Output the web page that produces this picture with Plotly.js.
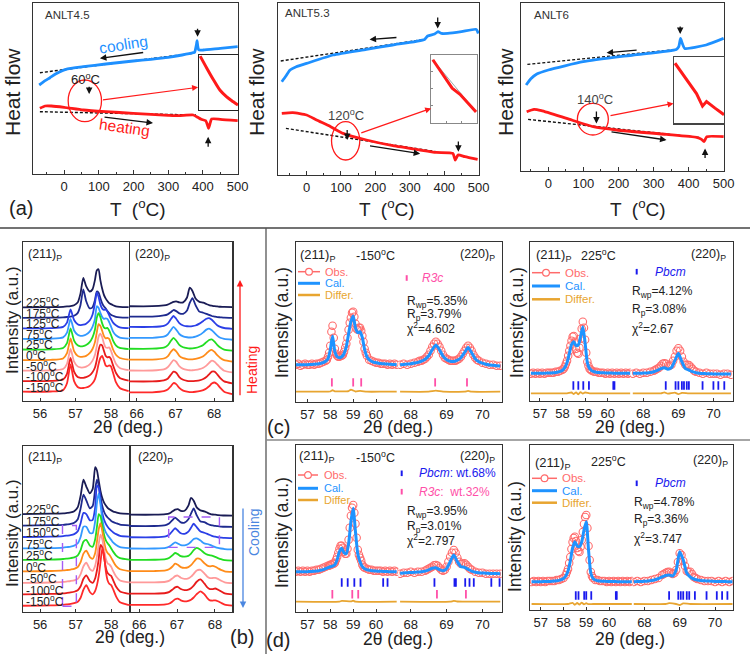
<!DOCTYPE html>
<html><head><meta charset="utf-8">
<script src="https://cdn.plot.ly/plotly-3.0.1.min.js"></script>
<style>html,body{margin:0;padding:0;background:#fff}#chart{width:750px;height:654px}</style>
</head><body><div id="chart"></div>
<script>
// ================= DATA =================
// (a) DSC curves: temperature (°C) and heat flow (a.u.)
const a1CoolT = [-72,-55,-41,-25,-12,5,55,120,199,250,300,340,372,376,381,383,385,388,401,450,500];
const a1CoolV = [89,93.3,96.3,100,102.3,104.7,107.3,110,113,114.7,116.7,119,121.3,121.8,129,133.3,128,124,124,125.7,127.3];
const a1CoolBaseT = [-70,372], a1CoolBaseV = [101.3,120.7];
const a1HeatT = [-70,-55,-37,0,55,120,199,250,300,330,372,385,395,408,413,416,420,425,450,500];
const a1HeatV = [65.7,68,68,66.7,64,62.3,60.7,59.7,58.7,58.3,59,56.7,54.7,53.3,49,45.7,50,55,54.7,53.3];
const a1HeatBaseT = [-70,380], a1HeatBaseV = [62.3,59];

const a2CoolT = [-72,-60,-48,-30,0,77,174,250,343,352,372,382,392,410,450,493,499];
const a2CoolV = [93,98.7,104.7,108,111.3,119.7,125.3,129.7,135.3,138.7,140.7,143,141.3,141.3,143,145.3,141.3];
const a2CoolBaseT = [-75,343], a2CoolBaseV = [113.7,135.3];
const a2HeatT = [-72,-40,0,29,70,106,174,251,330,377,425,432,440,460,497];
const a2HeatV = [61.3,62,59.7,54.7,48,41.3,34.7,29,24.7,22.3,21.3,14.7,19.7,18,15.3];
const a2HeatBaseT = [-60,377], a2HeatBaseV = [46.3,23];

const a3CoolT = [-63.5,-50,-33,0,99,242,365,372,377,382,389,450,500];
const a3CoolV = [85.7,92,96.7,100.7,109,115.7,121.3,124,132.3,127.3,122.3,125.7,132.3];
const a3CoolBaseT = [-60,365], a3CoolBaseV = [106.3,121.3];
const a3HeatT = [-62,-41,-20,52,128,195,337,423,437,444,452,500];
const a3HeatV = [59,61.3,60,52.3,44,40.7,36.3,33.3,31.3,29,34,34];
const a3HeatBaseT = [-58,430], a3HeatBaseV = [51.3,33.3];

// insets (relative units)
const in1X = [0.03,0.2,0.37,0.54,0.71,0.88,1.0], in1Y = [0.98,0.76,0.55,0.36,0.24,0.15,0.09];
const in2X = [0.04,0.46,0.63,0.98], in2Y = [0.93,0.51,0.42,0.16];
const in2FitX = [0.04,0.5,0.98], in2FitY = [0.93,0.56,0.16];
const in3X = [0.02,0.25,0.45,0.57,0.65,0.82,1.0], in3Y = [0.91,0.66,0.45,0.26,0.33,0.23,0.13];

// (b) temperature-dependent XRD stacks
const tempsHeat = ['-150','-100','-50','0','25','75','125','175','225'];
const tempsCool = ['-150','-100','-50','0','25','75','150','175','225'];
const stackColors = ['#ff2a2a','#e81c1c','#ff9a9a','#ff8c1a','#22dd22','#3399ff','#2b3fe6','#1e2a8e','#1a1c55'];
const X211 = [55.5,56.3,56.65,56.76,56.86,56.96,57.06,57.14,57.22,57.3,57.4,57.48,57.55,57.6,57.65,57.7,57.75,57.8,57.85,57.9,57.95,58.0,58.06,58.14,58.25,58.5];
const X220 = [65.7,66.4,66.7,66.8,66.88,66.95,67.02,67.1,67.2,67.3,67.37,67.44,67.52,67.62,67.72,67.8,67.87,67.94,68.01,68.08,68.16,68.26,68.47];
const heat211 = [
 [0,0.02,0.15,0.8,2.6,1.0,0.45,0.35,0.35,0.4,0.55,0.8,1.2,1.8,2.6,3.2,3.4,3.0,2.5,2.4,2.5,2.4,1.8,0.9,0.35,0.05],
 [0,0.02,0.15,0.7,2.2,0.9,0.4,0.32,0.32,0.38,0.55,0.85,1.3,2.0,2.9,3.45,3.4,2.9,2.4,2.25,2.3,2.1,1.5,0.8,0.3,0.05],
 [0,0.02,0.15,0.65,2.05,0.85,0.4,0.3,0.3,0.38,0.6,0.95,1.5,2.3,3.2,3.5,3.2,2.6,2.2,2.15,2.2,1.9,1.3,0.65,0.25,0.04],
 [0,0.02,0.15,0.65,2.05,0.85,0.4,0.3,0.32,0.4,0.65,1.05,1.7,2.6,3.4,3.25,2.8,2.3,2.05,2.1,2.0,1.6,1.0,0.5,0.2,0.04],
 [0,0.02,0.15,0.6,2.0,0.85,0.4,0.3,0.32,0.42,0.7,1.15,1.9,3.0,3.45,3.1,2.5,2.1,2.0,2.05,1.8,1.4,0.85,0.4,0.15,0.03],
 [0,0.02,0.15,0.6,1.9,0.8,0.4,0.3,0.32,0.42,0.7,1.15,1.9,3.1,2.95,2.5,2.1,1.9,1.95,1.9,1.6,1.2,0.7,0.35,0.12,0.03],
 [0,0.02,0.15,0.55,1.8,0.8,0.4,0.32,0.35,0.45,0.75,1.3,2.4,3.4,3.0,2.3,1.9,1.75,1.8,1.6,1.25,0.9,0.55,0.3,0.1,0.02],
 [0,0.02,0.05,0.08,0.12,0.2,0.45,1.2,2.7,1.6,0.9,1.0,1.7,2.5,2.4,1.9,1.4,1.1,0.9,0.65,0.45,0.3,0.2,0.1,0.05,0.02],
 [0,0.02,0.05,0.08,0.12,0.2,0.45,1.3,2.8,2.0,1.5,1.7,2.6,3.5,3.6,2.6,1.8,1.2,0.85,0.6,0.4,0.3,0.2,0.1,0.05,0.02]
];
const heat220 = [
 [0.2,0.2,0.3,0.45,0.75,1.05,0.95,0.6,0.35,0.25,0.22,0.22,0.25,0.3,0.4,0.55,0.75,1.0,1.1,0.95,0.6,0.25,0.02],
 [0.2,0.2,0.3,0.45,0.8,1.1,1.0,0.6,0.35,0.25,0.22,0.22,0.25,0.3,0.42,0.6,0.85,1.1,1.1,0.85,0.5,0.2,0.02],
 [0.2,0.2,0.3,0.5,0.85,1.15,1.0,0.6,0.35,0.25,0.22,0.22,0.25,0.32,0.45,0.65,0.9,1.1,1.0,0.75,0.45,0.18,0.02],
 [0.2,0.2,0.3,0.5,0.9,1.15,0.95,0.55,0.33,0.25,0.22,0.22,0.26,0.35,0.5,0.75,1.0,1.1,0.9,0.6,0.35,0.15,0.02],
 [0.2,0.2,0.3,0.5,0.9,1.2,0.95,0.55,0.33,0.25,0.22,0.23,0.27,0.38,0.55,0.8,1.0,1.05,0.85,0.55,0.3,0.12,0.02],
 [0.2,0.2,0.3,0.5,0.9,1.2,0.95,0.55,0.33,0.25,0.23,0.24,0.3,0.45,0.7,0.95,1.05,0.9,0.65,0.4,0.2,0.1,0.02],
 [0.2,0.2,0.3,0.5,0.9,1.2,0.95,0.55,0.33,0.26,0.25,0.27,0.33,0.5,0.75,0.95,1.0,0.85,0.6,0.35,0.2,0.1,0.02],
 [0.15,0.15,0.25,0.35,0.55,0.75,0.65,0.45,0.4,0.7,1.4,1.85,1.2,0.6,0.5,0.4,0.3,0.2,0.15,0.1,0.08,0.05,0.02],
 [0.1,0.1,0.18,0.25,0.38,0.5,0.55,0.45,0.45,0.9,1.8,1.5,0.8,0.5,0.42,0.3,0.2,0.15,0.1,0.08,0.05,0.03,0.02]
];
const cool211 = [
 [0,0.03,0.08,0.12,0.16,0.22,0.35,0.7,1.4,1.8,1.2,1.0,1.3,1.8,2.6,3.8,5.0,4.4,3.0,2.2,1.9,1.8,1.4,0.8,0.3,0.05],
 [0,0.03,0.08,0.12,0.16,0.22,0.35,0.7,1.35,1.65,1.15,1.0,1.4,2.1,3.1,4.3,4.1,3.2,2.3,1.85,1.7,1.6,1.2,0.65,0.25,0.04],
 [0,0.03,0.08,0.12,0.16,0.22,0.35,0.75,1.45,1.75,1.2,1.05,1.5,2.3,3.4,4.2,3.8,2.9,2.1,1.7,1.6,1.4,1.0,0.55,0.2,0.04],
 [0,0.03,0.08,0.12,0.16,0.22,0.38,0.8,1.55,1.8,1.25,1.1,1.6,2.6,3.7,4.2,3.5,2.6,1.9,1.6,1.45,1.2,0.85,0.45,0.18,0.03],
 [0,0.03,0.08,0.12,0.16,0.22,0.4,0.85,1.6,1.75,1.25,1.15,1.8,2.9,4.0,3.8,3.0,2.2,1.7,1.45,1.25,1.0,0.7,0.38,0.15,0.03],
 [0,0.03,0.08,0.12,0.16,0.25,0.45,1.0,1.9,1.9,1.35,1.35,2.4,4.0,4.8,3.8,2.6,1.8,1.4,1.15,0.95,0.75,0.5,0.3,0.12,0.03],
 [0,0.03,0.08,0.12,0.16,0.25,0.5,1.2,2.1,2.0,1.45,1.5,2.6,4.5,4.3,3.1,2.1,1.5,1.15,0.9,0.7,0.55,0.4,0.25,0.1,0.03],
 [0,0.03,0.06,0.1,0.14,0.25,0.55,1.5,2.7,2.2,1.5,1.7,3.2,4.0,3.5,2.5,1.7,1.2,0.9,0.7,0.55,0.4,0.3,0.2,0.08,0.02],
 [0,0.03,0.06,0.1,0.14,0.25,0.6,1.6,3.0,2.4,1.8,2.2,4.1,3.8,2.9,2.0,1.4,1.0,0.75,0.55,0.42,0.32,0.22,0.15,0.06,0.02]
];
const cool220 = [
 [0.1,0.1,0.15,0.22,0.4,0.6,0.65,0.5,0.4,0.45,0.55,0.75,1.05,1.3,1.05,0.7,0.5,0.48,0.5,0.42,0.28,0.12,0.02],
 [0.1,0.1,0.15,0.25,0.45,0.65,0.7,0.5,0.4,0.45,0.58,0.8,1.15,1.35,1.0,0.65,0.5,0.5,0.55,0.45,0.3,0.12,0.02],
 [0.1,0.1,0.15,0.25,0.45,0.65,0.7,0.5,0.4,0.45,0.6,0.85,1.15,1.2,0.9,0.6,0.48,0.48,0.5,0.4,0.25,0.1,0.02],
 [0.1,0.1,0.15,0.28,0.5,0.75,0.65,0.45,0.38,0.45,0.62,0.9,1.2,1.15,0.8,0.58,0.52,0.55,0.48,0.35,0.2,0.08,0.02],
 [0.1,0.1,0.15,0.28,0.5,0.7,0.6,0.42,0.38,0.45,0.65,0.95,1.15,1.0,0.7,0.55,0.5,0.45,0.35,0.25,0.15,0.06,0.02],
 [0.1,0.1,0.15,0.28,0.48,0.65,0.55,0.4,0.38,0.5,0.7,0.95,1.0,0.8,0.55,0.5,0.42,0.32,0.22,0.15,0.1,0.05,0.02],
 [0.1,0.1,0.18,0.35,0.65,0.9,0.7,0.45,0.4,0.6,0.95,1.3,1.0,0.6,0.5,0.4,0.3,0.2,0.15,0.1,0.07,0.04,0.02],
 [0.1,0.1,0.18,0.35,0.62,0.85,0.65,0.42,0.4,0.7,1.2,1.65,1.05,0.5,0.45,0.3,0.2,0.15,0.1,0.08,0.05,0.03,0.02],
 [0.1,0.1,0.15,0.22,0.4,0.55,0.6,0.45,0.45,0.9,1.6,1.35,0.75,0.48,0.4,0.28,0.18,0.12,0.1,0.07,0.05,0.03,0.02]
];

// (c),(d) Rietveld refinements: 2θ grids and intensities (a.u.)
const gridA1 = [56.5,56.6,56.7,56.8,56.9,57.0,57.1,57.2,57.3,57.4,57.5,57.6,57.7,57.8,57.9,58.0,58.1,58.2,58.3,58.4,58.5,58.6,58.7,58.8,58.9,59.0,59.1,59.2,59.3,59.4,59.5,59.6,59.7,59.8,59.9,60.0,60.1,60.2,60.3,60.4,60.5,60.6,60.7,60.8,60.9];
const gridA2 = [56.6,56.7,56.8,56.9,57.0,57.1,57.2,57.3,57.4,57.5,57.6,57.7,57.8,57.9,58.0,58.1,58.2,58.3,58.4,58.5,58.6,58.7,58.8,58.9,59.0,59.1,59.2,59.3,59.4,59.5,59.6,59.7,59.8,59.9,60.0,60.1,60.2,60.3,60.4,60.5,60.6,60.7,60.8,60.9,61.0];
const gridB = [67.7,67.8,67.9,68.0,68.1,68.2,68.3,68.4,68.5,68.6,68.7,68.8,68.9,69.0,69.1,69.2,69.3,69.4,69.5,69.6,69.7,69.8,69.9,70.0,70.1,70.2,70.3,70.4,70.5];
// (c) -150 °C, R3c
const cL_obsA = [37,38,36,37,38,37,37,38,37,38,38,39,40,41,45,56,76,53,46,45,46,50,58,72,84,90,78,72,74,66,53,46,42,41,40,39,39,38,38,38,37,38,37,38,37];
const cL_fineXA = [57.85,57.95,58.05,58.15,58.25,58.35,58.45,58.55,58.65,58.75,58.85,58.95,59.05,59.15,59.25,59.35,59.45,59.55];
const cL_fineYA = [42,49,70,64,48,45,46,47,54,64,79,89,85,73,74,71,60,49];
const cL_calA = [37,37,37,37,37,37,37.2,37.3,37.5,37.7,38,38.5,39.2,40.5,43,52,65.7,50,45,44,45,48,55,68,80,85.7,74,69,70,64,52,45,42,40.5,39.5,39,38.5,38.2,38,37.8,37.6,37.5,37.3,37.2,37];
const cL_difXA = [56.5,57.5,58.0,58.1,58.2,58.8,58.9,59.0,59.1,59.3,59.6,60.3,60.9];
const cL_difYA = [10,10,10.2,11.5,10.4,10.6,12,11.2,10.2,10.8,10,10,10];
const cL_obsB = [37,38,37,38,39,40,41,43,47,55,60,55,47,43,41,41,42,45,51,56,51,44,41,39,38,37,37,36,36];
const cL_fineXB = [68.25,68.35,68.45,68.55,68.65,68.75,68.85,68.95,69.05,69.15,69.25,69.35,69.45,69.55,69.65,69.75,69.85];
const cL_fineYB = [41,42,45,51,58,58,51,44,42,41,41,43,48,54,54,47,42];
const cL_calB = [37,37.3,37.6,38,38.6,39.3,40.5,42.5,46,52,56.7,52,45.5,42,40.5,40.3,41.5,44,49,54.3,49,43,40,38.5,37.5,36.8,36.4,36,35.7];
const cL_difXB = [67.7,68.5,68.7,68.9,69.5,69.6,69.7,70.5];
const cL_difYB = [10,10,11,10,10,10.8,10,10];
const cL_r3cA = [58.07,59.0,59.35], cL_r3cB = [68.68,69.57];
// (c) 225 °C, Pbcm
const cR_obsA = [27,28,27,28,27,28,27,28,28,28,28,29,29,30,31,34,40,50,60,64.7,52,47,62,79,61,39,32,30,29,29,28,28,28,27,28,27,28,27,28,27,28,27,28,27,28];
const cR_fineXA = [58.05,58.15,58.25,58.35,58.45,58.55,58.65,58.75,58.85,58.95,59.05,59.15,59.25];
const cR_fineYA = [32,37,45,55,64,59,48,53,72,73,48,35,31];
const cR_calA = [27.4,27.4,27.4,27.4,27.4,27.5,27.5,27.6,27.7,27.8,28,28.3,28.7,29.3,30.5,33,38,47,56,59,55,55.7,64,74,58,38,32,30,29,28.5,28.2,28,27.9,27.8,27.7,27.6,27.6,27.5,27.5,27.4,27.4,27.4,27.4,27.4,27.4];
const cR_difXA = [56.6,58.2,58.4,58.5,58.6,58.7,58.8,58.9,59.0,59.2,61.0];
const cR_difYA = [7.4,7.4,8.2,6.6,8.4,6.4,8.6,7.0,8.2,7.4,7.4];
const cR_obsB = [27,28,27,28,28,29,30,32,35,37.4,35,36,44,52.4,44,36,35.7,32,29,28,27,28,27,27,27,26,27,27,26];
const cR_fineXB = [68.35,68.45,68.55,68.65,68.75,68.85,68.95,69.05,69.15,69.25,69.35,69.45];
const cR_fineYB = [31,33,37,37,35,40,50,50,39,36,34,30];
const cR_calB = [27.4,27.4,27.5,27.6,27.8,28.2,29,30.3,32,33,31.5,33,40,47.4,39,32,30.7,29,28,27.5,27.2,27,26.9,26.8,26.8,26.7,26.7,26.7,26.7];
const cR_difXB = [67.7,68.5,68.6,68.7,68.9,69.0,69.1,69.3,70.5];
const cR_difYB = [7.4,7.4,8.4,7.0,8.0,6.6,7.8,7.4,7.4];
const cR_pbcmA = [58.48,58.70,58.92,59.17,60.25,60.3];
const cR_pbcmB = [68.64,68.92,69.0,69.1,69.16,69.24,69.30,69.69,70.0,70.14,70.31];
// (d) -150 °C, Pbcm + R3c
const dL_obsA = [40,41,40,41,40,41,40,41,41,42,42,43,44,45,46,47,48,49,55,63,66,60,58,72,96,106.7,88,62,54,47,44,43,42,42,41,41,41,41,40,41,40,41,40,41,40];
const dL_fineXA = [57.95,58.05,58.15,58.25,58.35,58.45,58.55,58.65,58.75,58.85,58.95,59.05,59.15,59.25,59.35,59.45];
const dL_fineYA = [46,47,48,52,59,66,64,58,63,84,104,99,74,57,51,45];
const dL_calA = [40,40,40,40,40,40,40.2,40.3,40.5,40.7,41,41.5,42,43,44,45,45.5,47,52,60,63.4,59,58,68,90,103.4,80,58,50,45,43,42,41.5,41,40.8,40.6,40.5,40.4,40.3,40.2,40.1,40,40,40,40];
const dL_difXA = [56.5,58.4,58.5,58.9,59.0,59.1,60.9];
const dL_difYA = [10,10,10.8,10.3,11,10,10];
const dL_obsB = [38,39,39,40,39,40,40,41,43,45,46.7,44,41,45,55,61.7,54,48,48.4,45,42,40,39,39,38,38,38,38,38];
const dL_fineXB = [68.45,68.55,68.65,68.75,68.85,68.95,69.05,69.15,69.25,69.35,69.45,69.55,69.65];
const dL_fineYB = [42,44,46.5,46,42,42,50,59,59,50,48,47,43];
const dL_calB = [38.5,38.7,39,39.2,39.4,39.6,40,40.6,41.8,43.5,44,42,41,43,50,56.7,50,45,44.4,42.5,40.5,39.5,39,38.7,38.5,38.3,38.2,38.1,38];
const dL_difXB = [67.7,69.1,69.2,69.3,70.5];
const dL_difYB = [10,10,10.8,10.2,10];
const dL_pbcmA = [58.5,58.76,59.05,59.32,60.31,60.5];
const dL_pbcmB = [68.66,69.22,69.26,69.52,69.64,69.76,70.25,70.48];
const dL_r3cA = [58.09,58.96,59.22], dL_r3cB = [68.73,69.54];
// (d) 225 °C, Pbcm
const dR_obsA = [28,29,28,29,28,29,28,29,29,29,29,30,30,31,32,35,41,53,68,73.3,62,58,70,86,95,64,38,32,30,30,29,29,29,28,29,28,29,28,29,28,29,28,29,28,29];
const dR_fineXA = [58.15,58.25,58.35,58.45,58.55,58.65,58.75,58.85,58.95,59.05,59.15,59.25];
const dR_fineYA = [38,47,61,72,69,59,63,78,93,82,50,34];
const dR_calA = [28.3,28.3,28.3,28.3,28.3,28.4,28.4,28.5,28.6,28.7,28.9,29.2,29.6,30.3,31.5,34,39,49,62,68.3,64,63.3,68,80,88.3,60,37,31.5,30,29.3,29,28.8,28.7,28.6,28.5,28.5,28.4,28.4,28.3,28.3,28.3,28.3,28.3,28.3,28.3];
const dR_difXA = [56.6,58.2,58.4,58.5,58.6,58.7,58.8,58.9,59.0,59.1,59.3,61.0];
const dR_difYA = [6,6,7.2,5.2,7.0,5.4,7.4,5.6,6.8,5.8,6,6];
const dR_obsB = [28,29,28,29,29,30,31,32,35,37,38.3,36,40,56.7,49,39,38.3,33,31,30,29,29,29,28,29,28,29,28,29];
const dR_fineXB = [68.55,68.65,68.75,68.85,68.95,69.05,69.15,69.25,69.35,69.45];
const dR_fineYB = [36,38,37,37,48,55,44,38,36,32];
const dR_calB = [28.3,28.4,28.5,28.7,29,29.5,30.3,31.5,33,34.5,35,34,40,58.3,50,37,33,31,30,29.5,29.2,29,28.8,28.6,28.5,28.4,28.4,28.3,28.3];
const dR_difXB = [67.7,68.6,68.7,68.9,69.0,69.1,69.3,70.5];
const dR_difYB = [6,6,6.8,6,5,6.6,6,6];
const dR_pbcmA = [58.54,58.66,58.91,59.0,59.22,60.3,60.34];
const dR_pbcmB = [68.7,68.96,69.03,69.1,69.2,69.27,69.43,69.76,70.05,70.2,70.35];

// ================= DRAWING =================
const W = 750, H = 654;
const FONT = 'Liberation Sans, Arial, Helvetica, sans-serif';
const RED = '#ff1a1a', BLUE = '#1e90ff', OBS = '#ff6b6b', CAL = '#1f93ff', DIF = '#e8a530', PBCM = '#1a1aee', R3C = '#ff4fa8';
const layout = {width:W, height:H, margin:{l:0,r:0,t:0,b:0}, paper_bgcolor:'#fff', plot_bgcolor:'rgba(0,0,0,0)',
  showlegend:false, font:{family:FONT, color:'#222'}, annotations:[], shapes:[]};
const traces = [];
const sfx = id => id === 1 ? '' : String(id);
function mkAxes(id, x0, x1, top, bot, xr, yr, xo, yo){
  const s = sfx(id);
  layout['xaxis'+s] = Object.assign({domain:[x0/W, x1/W], range:xr, anchor:'y'+s, showgrid:false, zeroline:false,
    showline:true, linecolor:'#333', linewidth:1.2, mirror:true, ticks:'', showticklabels:false, fixedrange:true,
    tickfont:{family:FONT, size:13, color:'#222'}}, xo||{});
  layout['yaxis'+s] = Object.assign({domain:[1-bot/H, 1-top/H], range:yr, anchor:'x'+s, showgrid:false, zeroline:false,
    showline:true, linecolor:'#333', linewidth:1.2, mirror:true, ticks:'', showticklabels:false, fixedrange:true}, yo||{});
}
function line(id, x, y, color, width, extra){
  const s = sfx(id);
  traces.push(Object.assign({type:'scatter', mode:'lines', x:x, y:y, xaxis:'x'+s, yaxis:'y'+s,
    line:{color:color, width:width}, hoverinfo:'skip'}, extra||{}));
}
function pLine(x0,y0,x1,y1,color,w,dash){
  layout.shapes.push({type:'line', xref:'paper', yref:'paper', x0:x0/W, y0:1-y0/H, x1:x1/W, y1:1-y1/H,
    line:{color:color, width:w, dash:dash||'solid'}, layer:'above'});
}
function pCircle(cx,cy,r,color){
  layout.shapes.push({type:'circle', xref:'paper', yref:'paper', x0:(cx-r)/W, x1:(cx+r)/W, y0:1-(cy+r)/H, y1:1-(cy-r)/H,
    line:{color:color, width:1.2}, fillcolor:'#fff', layer:'above'});
}
function pText(x,y,text,size,color,xa,extra){
  layout.annotations.push(Object.assign({xref:'paper', yref:'paper', x:x/W, y:1-y/H, text:text, showarrow:false,
    xanchor:xa||'center', yanchor:'middle', font:{family:FONT, size:size, color:color||'#222'}}, extra||{}));
}
function pArrow(x0,y0,x1,y1,color,w){
  layout.annotations.push({xref:'paper', yref:'paper', x:x1/W, y:1-y1/H, ax:x0-x1, ay:y0-y1, text:'',
    showarrow:true, arrowhead:2, arrowsize:1, arrowwidth:w, arrowcolor:color});
}
function dText(id,x,y,text,size,color,xa,extra){
  const s = sfx(id);
  layout.annotations.push(Object.assign({xref:'x'+s, yref:'y'+s, x:x, y:y, text:text, showarrow:false,
    xanchor:xa||'center', yanchor:'middle', font:{family:FONT, size:size, color:color||'#222'}}, extra||{}));
}
function dArrow(id,x0,y0,x1,y1,color,w){
  const s = sfx(id);
  layout.annotations.push({xref:'x'+s, yref:'y'+s, axref:'x'+s, ayref:'y'+s, x:x1, y:y1, ax:x0, ay:y0, text:'',
    showarrow:true, arrowhead:2, arrowsize:1, arrowwidth:w||1.3, arrowcolor:color||'#111'});
}
function dEllipse(id,x0,x1,y0,y1){
  const s = sfx(id);
  layout.shapes.push({type:'circle', xref:'x'+s, yref:'y'+s, x0:x0, x1:x1, y0:y0, y1:y1, line:{color:RED, width:1.3}});
}

// ---- (a) DSC ----
const dscX = {tickmode:'linear', tick0:0, dtick:100, showticklabels:true, ticks:'inside', ticklen:4, tickcolor:'#333',
  minor:{ticks:'inside', ticklen:2, dtick:50, tick0:0, tickcolor:'#333'}};
mkAxes(1, 33.3, 238, 3.3, 174, [-89, 501], [0, 170.7], dscX);
mkAxes(2, 278, 479, 3.3, 174.7, [-83, 501], [0, 171.4], dscX);
mkAxes(3, 520.7, 724, 3.3, 170.7, [-79, 501], [0, 167.4], dscX);
const dsc = [
  [1,a1CoolT,a1CoolV,a1CoolBaseT,a1CoolBaseV,a1HeatT,a1HeatV,a1HeatBaseT,a1HeatBaseV],
  [2,a2CoolT,a2CoolV,a2CoolBaseT,a2CoolBaseV,a2HeatT,a2HeatV,a2HeatBaseT,a2HeatBaseV],
  [3,a3CoolT,a3CoolV,a3CoolBaseT,a3CoolBaseV,a3HeatT,a3HeatV,a3HeatBaseT,a3HeatBaseV]
];
dsc.forEach(d => {
  line(d[0], d[3], d[4], '#111', 1.3, {line:{color:'#111', width:1.4, dash:'3px,2px'}});
  line(d[0], d[7], d[8], '#111', 1.3, {line:{color:'#111', width:1.4, dash:'3px,2px'}});
  line(d[0], d[1], d[2], BLUE, 2.8, {line:{color:BLUE, width:2.8, shape:'spline', smoothing:0.5}});
  line(d[0], d[5], d[6], RED, 2.8, {line:{color:RED, width:2.8, shape:'spline', smoothing:0.5}});
});
// insets
const inAx = {showline:true, mirror:true, linecolor:'#222', linewidth:1.2};
mkAxes(4, 199, 238, 55, 110, [0,1], [0,1], inAx, inAx);
mkAxes(5, 431, 477, 55, 122.7, [0,1], [0,1],
  {linecolor:'#888', ticks:'inside', ticklen:2, tickcolor:'#888', tickvals:[0.33,0.66]},
  {linecolor:'#888', ticks:'inside', ticklen:2, tickcolor:'#888', tickvals:[0.25,0.5,0.75]});
mkAxes(6, 674, 724, 57.3, 123.3, [0,1], [0,1], {linecolor:'#444'}, {linecolor:'#444'});
line(4, in1X, in1Y, RED, 3, {line:{color:RED, width:3, shape:'spline'}});
line(5, in2FitX, in2FitY, '#9aa', 1, {line:{color:'#9aa', width:1}});
line(5, in2X, in2Y, RED, 3);
line(6, in3X, in3Y, RED, 3);

// annotations panel a1
dText(1, -60, 159, 'ANLT4.5', 11.5, '#333', 'left');
dText(1, 170, 129, 'cooling', 15.5, BLUE, 'center', {textangle:-9});
dArrow(1, 232, 121.7, 103, 115.7);
dText(1, 175, 46, 'heating', 15.5, RED, 'center', {textangle:8});
dArrow(1, 112, 57, 256, 51);
dText(1, 60, 94.7, '60<sup>o</sup>C', 13, '#222');
dArrow(1, 72, 88.7, 72, 80);
dEllipse(1, 11.5, 107.6, 52.3, 94);
dArrow(1, 107.6, 74, 386, 86.7, RED, 1.2);
dArrow(1, 384.4, 146.7, 384.4, 137.3);
dArrow(1, 415, 25.7, 415, 37.3);
// panel a2
dText(2, -68, 161.3, 'ANLT5.3', 11.5, '#333', 'left');
dArrow(2, 265.5, 137.3, 183, 135.3);
dArrow(2, 180, 29, 330, 21);
dArrow(2, 381, 158.7, 381, 146.3);
dArrow(2, 441, 34.7, 441, 23);
dText(2, 115, 59.7, '120<sup>o</sup>C', 13, '#444');
dArrow(2, 118, 46.3, 118, 34.7);
dEllipse(2, 72.5, 154.6, 14.7, 53);
dArrow(2, 154.6, 41.3, 362, 66.3, RED, 1.2);
// panel a3
dText(3, -47, 155.7, 'ANLT6', 11.5, '#333', 'left');
dArrow(3, 256, 120.7, 166, 118);
dArrow(3, 175.8, 39, 337, 30.7);
dArrow(3, 376, 145.7, 376, 136.7);
dArrow(3, 447, 11.3, 447, 22.3);
dText(3, 132, 71.3, '140<sup>o</sup>C', 13, '#444');
dArrow(3, 137, 60.7, 137, 47.3);
dEllipse(3, 82.7, 171, 35.7, 67.3);
dArrow(3, 173, 54.7, 357, 67.3, RED, 1.2);
// titles
[[13,92],[257,92],[506,92]].forEach(p => pText(p[0], p[1], 'Heat flow', 21, '#222', 'center', {textangle:-90}));
[138, 387, 638].forEach(x => pText(x, 208, 'T  (<sup>o</sup>C)', 19, '#222'));
pText(21, 208, '(a)', 20, '#222');

// ---- (b) stacks ----
const stX = {showticklabels:true, ticks:'inside', ticklen:3, tickcolor:'#333'};
mkAxes(7, 22.7, 129, 241.7, 401, [55.51, 58.51], [-0.88, 14.22], Object.assign({tickvals:[56,57,58]}, stX));
mkAxes(8, 129, 232.3, 241.7, 401, [65.8, 68.47], [-0.6, 14.02], Object.assign({tickvals:[66,67,68]}, stX), {mirror:false, side:'right'});
mkAxes(9, 22.7, 129.3, 446, 611.7, [55.51, 58.51], [-0.52, 13.94], Object.assign({tickvals:[56,57,58]}, stX));
mkAxes(10, 129.3, 232.3, 446, 611.7, [65.74, 68.46], [-0.51, 14.2], Object.assign({tickvals:[66,67,68]}, stX), {mirror:false, side:'right'});
function stack(id, xs, profiles){
  for (let i = profiles.length-1; i >= 0; i--) {
    line(id, xs, profiles[i].map(v => v + i), stackColors[i], 1.8, {line:{color:stackColors[i], width:1.8, shape:'spline', smoothing:0.6}});
  }
}
stack(7, X211, heat211); stack(8, X220, heat220); stack(9, X211, cool211); stack(10, X220, cool220);
tempsHeat.forEach((t,i) => dText(7, 55.55, i+0.48, t+'<sup>o</sup>C', 12, '#222', 'left'));
tempsCool.forEach((t,i) => dText(9, 55.55, i+0.4, t+'<sup>o</sup>C', 12, '#222', 'left'));
pText(26, 255, '(211)<sub>P</sub>', 12.5, '#222', 'left');
pText(132.7, 255, '(220)<sub>P</sub>', 12.5, '#222', 'left');
pText(26, 458, '(211)<sub>P</sub>', 12.5, '#222', 'left');
pText(136, 458, '(220)<sub>P</sub>', 12.5, '#222', 'left');
// dashed boxes on cooling
layout.shapes.push({type:'rect', xref:'x9', yref:'y9', x0:56.63, x1:57.02, y0:-0.05, y1:7.0, line:{color:'#a55df5', width:1.4, dash:'dash'}});
layout.shapes.push({type:'rect', xref:'x10', yref:'y10', x0:66.78, x1:68.12, y0:5.2, y1:7.9, line:{color:'#a55df5', width:1.4, dash:'dash'}});
pArrow(240, 396.7, 240, 280, RED, 1.3);
pText(252, 370, 'Heating', 14, RED, 'center', {textangle:-90});
pArrow(243, 507, 243, 608, '#4a86e0', 1.3);
pText(254, 533, 'Cooling', 14, '#4a86e0', 'center', {textangle:-90});
pText(12, 320, 'Intensity (a.u.)', 17, '#222', 'center', {textangle:-90});
pText(12, 533, 'Intensity (a.u.)', 17, '#222', 'center', {textangle:-90});
pText(128, 427, '2θ (deg.)', 17.5, '#222');
pText(130, 637, '2θ (deg.)', 17.5, '#222');
pText(242, 637, '(b)', 20, '#222');

// ---- (c),(d) refinements ----
function segAxes(idA, idB, xa0, xm, xb1, top, bot, rA, rB){
  const yr = [0, bot-top];
  const xo = {showticklabels:true, ticks:'inside', ticklen:3, tickcolor:'#333', mirror:true};
  mkAxes(idA, xa0, xm, top, bot, rA, yr, Object.assign({tickvals:[57,58,59,60]}, xo), {mirror:false});
  mkAxes(idB, xm, xb1, top, bot, rB, yr, Object.assign({tickvals:[68,69,70]}, xo), {mirror:false, side:'right'});
}
function obsTrace(id, gx, obs){
  const s = sfx(id);
  traces.push({type:'scatter', mode:'markers', x:gx, y:obs, xaxis:'x'+s, yaxis:'y'+s, hoverinfo:'skip',
    marker:{symbol:'circle-open', size:7.5, color:OBS, line:{width:1.1, color:OBS}}});
}
function seg(id, gx, obs, fx, fy, cal, dx, dy){
  obsTrace(id, gx, obs); obsTrace(id, fx, fy);
  line(id, gx, cal, CAL, 3, {line:{color:CAL, width:3, shape:'spline', smoothing:0.6}});
  line(id, dx, dy, DIF, 1.8, {line:{color:DIF, width:1.8, shape:'spline', smoothing:0.5}});
}
function refl(id, xs, y, color){
  const s = sfx(id);
  traces.push({type:'scatter', mode:'markers', x:xs, y:xs.map(() => y), xaxis:'x'+s, yaxis:'y'+s, hoverinfo:'skip',
    marker:{symbol:'line-ns-open', size:6, color:color, line:{width:1.8, color:color}}});
}
function legend(x0, x1, tx, ys, size){
  pLine(x0, ys[0], x1, ys[0], OBS, 1.5); pCircle((x0+x1)/2, ys[0], 3.4, OBS);
  pText(tx, ys[0], 'Obs.', size, OBS, 'left');
  pLine(x0, ys[1], x1, ys[1], CAL, 3); pText(tx, ys[1], 'Cal.', size, CAL, 'left');
  pLine(x0, ys[2], x1, ys[2], DIF, 2.5); pText(tx, ys[2], 'Differ.', size, DIF, 'left');
}
function tick(x, y, color){ pLine(x, y-2.8, x, y+2.8, color, 2); }

// (c) left
segAxes(11, 12, 295.7, 398.3, 501.7, 241.7, 401.7, [56.49, 60.97], [67.65, 70.54]);
seg(11, gridA1, cL_obsA, cL_fineXA, cL_fineYA, cL_calA, cL_difXA, cL_difYA);
seg(12, gridB, cL_obsB, cL_fineXB, cL_fineYB, cL_calB, cL_difXB, cL_difYB);
refl(11, cL_r3cA, 19.3, R3C); refl(12, cL_r3cB, 19.3, R3C);
pText(298, 255, '(211)<sub>P</sub>', 13, '#222', 'left');
pText(375, 255, '-150<sup>o</sup>C', 12.5, '#222');
pText(497, 255, '(220)<sub>P</sub>', 12.5, '#222', 'right');
legend(298, 320, 323, [271.7, 283.3, 295], 11);
tick(406.7, 278, R3C); pText(420, 278, '<i>R3c</i>', 12, R3C, 'left');
pText(405, 301.7, 'R<sub>wp</sub>=5.35%', 12, '#222', 'left');
pText(405, 315, 'R<sub>p</sub>=3.79%', 12, '#222', 'left');
pText(405, 328, 'χ<sup>2</sup>=4.602', 12, '#222', 'left');
pText(282, 323, 'Intensity (a.u.)', 17.5, '#222', 'center', {textangle:-90});
pText(398, 427, '2θ (deg.)', 17.5, '#222');
pText(278, 427, '(c)', 20, '#222');

// (c) right
segAxes(13, 14, 530, 630.7, 732.7, 241.7, 400.7, [56.56, 61.02], [67.64, 70.55]);
seg(13, gridA2, cR_obsA, cR_fineXA, cR_fineYA, cR_calA, cR_difXA, cR_difYA);
seg(14, gridB, cR_obsB, cR_fineXB, cR_fineYB, cR_calB, cR_difXB, cR_difYB);
refl(13, cR_pbcmA, 15.2, PBCM); refl(14, cR_pbcmB, 15.2, PBCM);
pText(534, 255, '(211)<sub>P</sub>', 13, '#222', 'left');
pText(598, 255, '225<sup>o</sup>C', 12.5, '#222');
pText(728, 255, '(220)<sub>P</sub>', 12.5, '#222', 'right');
legend(532, 560, 563, [272.7, 286, 299.3], 11.5);
tick(636.7, 271.7, PBCM); pText(653, 271.7, '<i>Pbcm</i>', 12, PBCM, 'left');
pText(630, 291.7, 'R<sub>wp</sub>=4.12%', 12, '#222', 'left');
pText(630, 310, 'R<sub>p</sub>=3.08%', 12, '#222', 'left');
pText(630, 328.3, 'χ<sup>2</sup>=2.67', 12, '#222', 'left');
pText(517, 323, 'Intensity (a.u.)', 17.5, '#222', 'center', {textangle:-90});
pText(630, 427, '2θ (deg.)', 17.5, '#222');

// (d) left
segAxes(15, 16, 295.7, 398.3, 501.7, 445, 611.7, [56.49, 60.97], [67.65, 70.54]);
seg(15, gridA1, dL_obsA, dL_fineXA, dL_fineYA, dL_calA, dL_difXA, dL_difYA);
seg(16, gridB, dL_obsB, dL_fineXB, dL_fineYB, dL_calB, dL_difXB, dL_difYB);
refl(15, dL_pbcmA, 29.2, PBCM); refl(16, dL_pbcmB, 29.2, PBCM);
refl(15, dL_r3cA, 17.5, R3C); refl(16, dL_r3cB, 17.5, R3C);
pText(297, 456.7, '(211)<sub>P</sub>', 13, '#222', 'left');
pText(375, 456.7, '-150<sup>o</sup>C', 12.5, '#222');
pText(497, 456.7, '(220)<sub>P</sub>', 12.5, '#222', 'right');
legend(298, 318, 321.7, [475, 488.3, 500], 11);
tick(401.7, 473.3, PBCM); pText(416.7, 473.3, '<i>Pbcm</i>: wt.68%', 12, PBCM, 'left');
tick(401.7, 491.7, R3C); pText(416.7, 491.7, '<i>R3c</i>:  wt.32%', 12, R3C, 'left');
pText(405, 511.7, 'R<sub>wp</sub>=3.95%', 12, '#222', 'left');
pText(405, 526.7, 'R<sub>p</sub>=3.01%', 12, '#222', 'left');
pText(405, 540, 'χ<sup>2</sup>=2.797', 12, '#222', 'left');
pText(282, 533, 'Intensity (a.u.)', 17.5, '#222', 'center', {textangle:-90});
pText(398, 639, '2θ (deg.)', 17.5, '#222');
pText(278, 640, '(d)', 20, '#222');

// (d) right
segAxes(17, 18, 530, 632.7, 732.7, 445, 610, [56.53, 61.04], [67.67, 70.5]);
seg(17, gridA2, dR_obsA, dR_fineXA, dR_fineYA, dR_calA, dR_difXA, dR_difYA);
seg(18, gridB, dR_obsB, dR_fineXB, dR_fineYB, dR_calB, dR_difXB, dR_difYB);
refl(17, dR_pbcmA, 14.5, PBCM); refl(18, dR_pbcmB, 14.5, PBCM);
pText(533, 463.3, '(211)<sub>P</sub>', 13, '#222', 'left');
pText(608, 460.7, '225<sup>o</sup>C', 12.5, '#222');
pText(730, 461, '(220)<sub>P</sub>', 12.5, '#222', 'right');
legend(532, 557, 560, [478.3, 490.7, 502.7], 11.5);
tick(636.7, 483.3, PBCM); pText(653.3, 483.3, '<i>Pbcm</i>', 12, PBCM, 'left');
pText(631.7, 503.3, 'R<sub>wp</sub>=4.78%', 12, '#222', 'left');
pText(631.7, 520, 'R<sub>p</sub>=3.36%', 12, '#222', 'left');
pText(631.7, 538.3, 'χ<sup>2</sup>=3.747', 12, '#222', 'left');
pText(515, 537, 'Intensity (a.u.)', 17.5, '#222', 'center', {textangle:-90});
pText(630, 639, '2θ (deg.)', 17.5, '#222');

// separators
pLine(0, 228, 750, 228, '#444', 1.3);
pLine(266, 228, 266, 654, '#555', 1.3);
pLine(266, 440, 750, 440, '#888', 1.3);

Plotly.newPlot('chart', traces, layout, {staticPlot:true, displayModeBar:false});
</script></body></html>
